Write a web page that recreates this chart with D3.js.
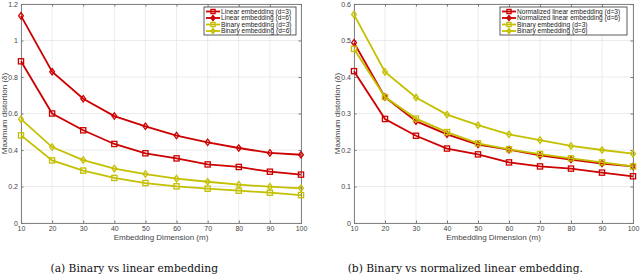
<!DOCTYPE html>
<html><head><meta charset="utf-8">
<script src="https://cdn.jsdelivr.net/npm/d3@7"></script>
<style>body{margin:0;background:#fff}svg{display:block}</style>
</head><body>
<svg id="c" width="640" height="276"></svg>
<script>
const dims = [10,20,30,40,50,60,70,80,90,100];
const linearD3 = [0.886,0.600,0.508,0.433,0.382,0.354,0.321,0.307,0.281,0.265];
const linearD6 = [1.135,0.829,0.681,0.586,0.530,0.479,0.442,0.411,0.384,0.374];
const binaryD3 = [0.480,0.343,0.287,0.247,0.219,0.201,0.188,0.177,0.166,0.153];
const binaryD6 = [0.569,0.416,0.345,0.298,0.268,0.243,0.226,0.210,0.199,0.190];
const normLinD3 = [0.416,0.285,0.239,0.204,0.188,0.166,0.155,0.149,0.138,0.128];
const normLinD6 = [0.494,0.345,0.279,0.243,0.215,0.201,0.185,0.174,0.163,0.155];
const binaryBD3 = [0.477,0.345,0.286,0.249,0.218,0.202,0.189,0.177,0.166,0.155];
const binaryBD6 = [0.571,0.414,0.344,0.297,0.268,0.243,0.227,0.211,0.200,0.190];
const leftYTicks = [0,0.2,0.4,0.6,0.8,1,1.2];
const rightYTicks = [0,0.1,0.2,0.3,0.4,0.5,0.6];
const xTicks = [10,20,30,40,50,60,70,80,90,100];

const RED = "#cc0000", YEL = "#c4c000";
const svg = d3.select("#c");

function panel(opts){
  const g = svg.append("g");
  const x = d3.scaleLinear().domain([10,100]).range([opts.x0, opts.x1]);
  const y = d3.scaleLinear().domain([0, opts.ymax]).range([223, 4]);
  g.append("g").selectAll("line.vg").data(xTicks).join("line")
    .attr("x1", d=>x(d)).attr("x2", d=>x(d)).attr("y1", y(0)).attr("y2", y(opts.ymax))
    .attr("stroke","#e6e6e6").attr("stroke-width",0.8);
  g.append("g").selectAll("line.hg").data(opts.yTicks).join("line")
    .attr("x1", x(10)).attr("x2", x(100)).attr("y1", d=>y(d)).attr("y2", d=>y(d))
    .attr("stroke","#e6e6e6").attr("stroke-width",0.8);
  const ax = g.append("g").attr("transform",`translate(0,${y(0)})`)
    .call(d3.axisBottom(x).tickValues(xTicks).tickSize(-2.5).tickPadding(3).tickFormat(d3.format("d")));
  const ay = g.append("g").attr("transform",`translate(${x(10)},0)`)
    .call(d3.axisLeft(y).tickValues(opts.yTicks).tickSize(-2.5).tickPadding(3).tickFormat(d=>d));
  const axt = g.append("g").attr("transform",`translate(0,${y(opts.ymax)})`)
    .call(d3.axisTop(x).tickValues(xTicks).tickSize(-2.5).tickFormat(""));
  const ayr = g.append("g").attr("transform",`translate(${x(100)},0)`)
    .call(d3.axisRight(y).tickValues(opts.yTicks).tickSize(-2.5).tickFormat(""));
  [ax,ay,axt,ayr].forEach(a=>{
    a.selectAll("path").attr("stroke","#777").attr("stroke-width",0.9);
    a.selectAll("line").attr("stroke","#777");
    a.selectAll("text").attr("fill","#444").attr("font-family","Liberation Sans, Arial, sans-serif").attr("font-size",7);
  });
  g.append("text").attr("x",(opts.x0+opts.x1)/2).attr("y",240)
    .attr("text-anchor","middle").attr("font-family","Liberation Sans, Arial, sans-serif")
    .attr("font-size",8).attr("fill","#444").text("Embedding Dimension (m)");
  g.append("text").attr("transform",`translate(${opts.x0-14},${(y(0)+y(opts.ymax))/2}) rotate(-90)`)
    .attr("text-anchor","middle").attr("font-family","Liberation Sans, Arial, sans-serif")
    .attr("font-size",8).attr("fill","#444").text("Maximum distortion (\u03b4)");
  const line = d3.line().x((d,i)=>x(dims[i])).y(d=>y(d));
  opts.series.forEach(s=>{
    g.append("path").datum(s.values).attr("d",line).attr("fill","none")
      .attr("stroke",s.color).attr("stroke-width",1.8);
    s.values.forEach((v,i)=>drawMarker(g, x(dims[i]), y(v), s.marker, s.color));
  });
  const lg = g.append("g");
  lg.append("rect").attr("x",opts.lx).attr("y",7).attr("width",opts.lw).attr("height",28)
    .attr("fill","#fff").attr("stroke","#333").attr("stroke-width",0.8);
  opts.series.forEach((s,i)=>{
    const yy = 11.5 + i*6.5;
    lg.append("line").attr("x1",opts.lx+2).attr("x2",opts.lx+16).attr("y1",yy).attr("y2",yy)
      .attr("stroke",s.color).attr("stroke-width",1.8);
    drawMarker(lg, opts.lx+9, yy, s.marker, s.color, 0.8);
    lg.append("text").attr("x",opts.lx+17).attr("y",yy+2.3)
      .attr("font-family","Liberation Sans, Arial, sans-serif").attr("font-size",6.6)
      .attr("fill","#222").text(s.name);
  });
}
function drawMarker(g, cx, cy, type, color, k=1){
  if(type==="s"){
    const r = 2.6*k;
    g.append("rect").attr("x",cx-r).attr("y",cy-r).attr("width",2*r).attr("height",2*r)
      .attr("fill","none").attr("stroke",color).attr("stroke-width",1.3);
  } else {
    const rx = 2.4*k, ry = 3.2*k;
    g.append("path").attr("d",`M${cx},${cy-ry}L${cx+rx},${cy}L${cx},${cy+ry}L${cx-rx},${cy}Z`)
      .attr("fill","none").attr("stroke",color).attr("stroke-width",1.3);
  }
}

panel({x0:21, x1:301, ymax:1.2, yTicks:leftYTicks, lx:204, lw:92, series:[
  {name:"Linear embedding (d=3)", values:linearD3, color:RED, marker:"s"},
  {name:"Linear embedding (d=6)", values:linearD6, color:RED, marker:"d"},
  {name:"Binary embedding (d=3)", values:binaryD3, color:YEL, marker:"s"},
  {name:"Binary embedding (d=6)", values:binaryD6, color:YEL, marker:"d"}
]});
panel({x0:354, x1:633, ymax:0.6, yTicks:rightYTicks, lx:500, lw:127, series:[
  {name:"Normalized linear embedding (d=3)", values:normLinD3, color:RED, marker:"s"},
  {name:"Normalized linear embedding (d=6)", values:normLinD6, color:RED, marker:"d"},
  {name:"Binary embedding (d=3)", values:binaryBD3, color:YEL, marker:"s"},
  {name:"Binary embedding (d=6)", values:binaryBD6, color:YEL, marker:"d"}
]});

svg.append("text").attr("x",218).attr("y",272).attr("text-anchor","end")
  .attr("font-family","DejaVu Serif, serif").attr("font-size",10.7).attr("fill","#111")
  .text("(a) Binary vs linear embedding");
svg.append("text").attr("x",583).attr("y",272).attr("text-anchor","end")
  .attr("font-family","DejaVu Serif, serif").attr("font-size",10.7).attr("fill","#111")
  .text("(b) Binary vs normalized linear embedding.");
</script>
</body></html>
